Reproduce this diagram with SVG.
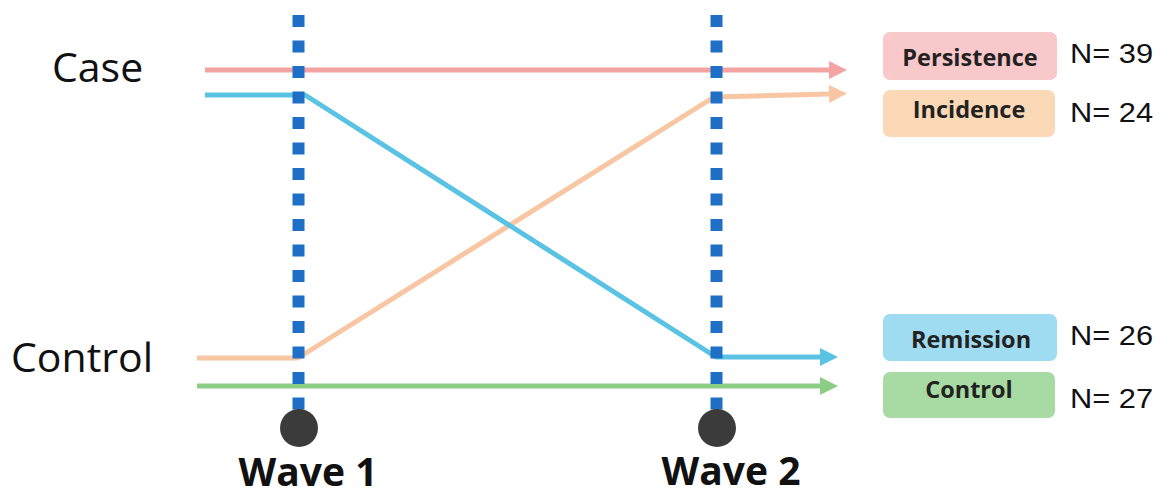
<svg xmlns="http://www.w3.org/2000/svg" width="1168" height="498" viewBox="0 0 1168 498">
<defs>
<style>
.lbl{font-family:"Open Sans","Liberation Sans",sans-serif;font-size:41px;fill:#111}
.wave{font-family:"Open Sans","Liberation Sans",sans-serif;font-size:39px;font-weight:bold;fill:#111}
.box{font-family:"Open Sans","Liberation Sans",sans-serif;font-size:23.5px;font-weight:bold;fill:#222}
.n{font-family:"Liberation Sans",Arial,sans-serif;font-size:28px;fill:#111}
.dot{stroke:#1f6fc6;stroke-width:12;stroke-dasharray:12 13.5;fill:none}
.ln{fill:none;stroke-width:5;stroke-linejoin:round}
</style>
<marker id="aR" viewBox="0 0 10 10" refX="0" refY="5" markerWidth="3.6" markerHeight="3.6" orient="auto" markerUnits="strokeWidth"><path d="M0,0L10,5L0,10z" fill="#f4a3a3"/></marker>
<marker id="aO" viewBox="0 0 10 10" refX="0" refY="5" markerWidth="3.6" markerHeight="3.6" orient="auto" markerUnits="strokeWidth"><path d="M0,0L10,5L0,10z" fill="#f8c6a2"/></marker>
<marker id="aB" viewBox="0 0 10 10" refX="0" refY="5" markerWidth="3.6" markerHeight="3.6" orient="auto" markerUnits="strokeWidth"><path d="M0,0L10,5L0,10z" fill="#5ac3e4"/></marker>
<marker id="aG" viewBox="0 0 10 10" refX="0" refY="5" markerWidth="3.6" markerHeight="3.6" orient="auto" markerUnits="strokeWidth"><path d="M0,0L10,5L0,10z" fill="#8ccd86"/></marker>
</defs>
<rect width="1168" height="498" fill="#fff"/>
<g id="row-labels">
<text class="lbl" x="52" y="82">Case</text>
<text class="lbl" x="11" y="372">Control</text>
</g>
<g id="connectors">
<path class="ln" d="M205,70 H829" stroke="#f4a3a3" marker-end="url(#aR)"/>
<path class="ln" d="M197,358 H298 L714,97 L829,94" stroke="#f8c6a2" marker-end="url(#aO)"/>
<path class="ln" d="M205,95 H305 L716,357 H820" stroke="#5ac3e4" marker-end="url(#aB)"/>
<path class="ln" d="M197,386 H820" stroke="#8ccd86" marker-end="url(#aG)"/>
</g>
<g id="wave1">
<line class="dot" x1="298.5" y1="15" x2="298.5" y2="410"/>
<circle cx="299" cy="428" r="19" fill="#3b3b3b"/>
<text class="wave" x="308" y="486" text-anchor="middle">Wave 1</text>
</g>
<g id="wave2">
<line class="dot" x1="716.5" y1="15" x2="716.5" y2="410"/>
<circle cx="717" cy="428" r="19" fill="#3b3b3b"/>
<text class="wave" x="731" y="485" text-anchor="middle">Wave 2</text>
</g>
<g id="persistence">
<rect x="883" y="32" width="174" height="48" rx="7" fill="#f8c8cb"/>
<text class="box" x="970" y="66" text-anchor="middle">Persistence</text>
<text class="n" x="1070" y="63" textLength="83" lengthAdjust="spacingAndGlyphs">N= 39</text>
</g>
<g id="incidence">
<rect x="883" y="90" width="172" height="47" rx="7" fill="#fcd9b6"/>
<text class="box" x="969" y="118" text-anchor="middle">Incidence</text>
<text class="n" x="1070" y="122" textLength="83" lengthAdjust="spacingAndGlyphs">N= 24</text>
</g>
<g id="remission">
<rect x="883" y="314" width="174" height="47" rx="7" fill="#9fdcf2"/>
<text class="box" x="971" y="348" text-anchor="middle">Remission</text>
<text class="n" x="1070" y="345" textLength="83" lengthAdjust="spacingAndGlyphs">N= 26</text>
</g>
<g id="control">
<rect x="883" y="372" width="172" height="46" rx="7" fill="#a8dba3"/>
<text class="box" x="969" y="398" text-anchor="middle">Control</text>
<text class="n" x="1070" y="408" textLength="83" lengthAdjust="spacingAndGlyphs">N= 27</text>
</g>
</svg>
